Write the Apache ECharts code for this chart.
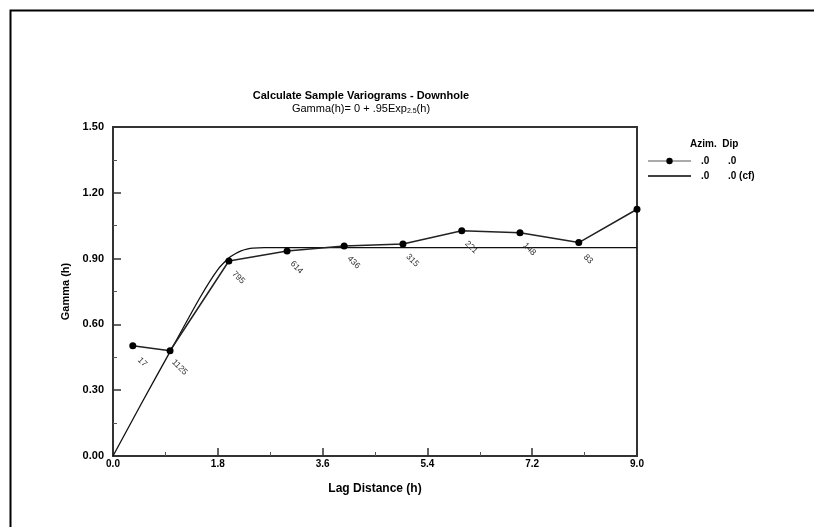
<!DOCTYPE html>
<html>
<head>
<meta charset="utf-8">
<script src="https://cdn.jsdelivr.net/npm/echarts@6/dist/echarts.min.js"></script>
<style>
html,body{margin:0;padding:0;background:#fff;}
#c{width:814px;height:527px;}
</style>
</head>
<body>
<div id="c"></div>
<script>
// Sample variogram (lag distance, gamma, number of pairs)
const lagX = [0.34, 0.98, 1.99, 2.99, 3.97, 4.98, 5.99, 6.99, 8.0, 9.0];
const gammaY = [0.503, 0.48, 0.889, 0.935, 0.958, 0.967, 1.027, 1.018, 0.973, 1.125];
const pairCounts = ['17', '1125', '795', '614', '436', '315', '221', '148', '83', ''];
// Fitted model curve
const modelX = [0, 0.5, 1.0, 1.5, 1.8, 2.0, 2.1, 2.2, 2.3, 2.4, 2.6, 9.0];
const modelY = [0, 0.245, 0.485, 0.725, 0.85, 0.905, 0.922, 0.935, 0.943, 0.948, 0.95, 0.95];
const yTicks = { min: 0, max: 1.5, interval: 0.3 };
const xTicks = { min: 0, max: 9, interval: 1.8 };
const seriesNames = ['.0 .0', '.0 .0 (cf)'];

const FONT = '"Liberation Sans", Arial, sans-serif';
const chart = echarts.init(document.getElementById('c'), null, { renderer: 'canvas' });

const sampleData = lagX.map((x, i) => ({ value: [x, gammaY[i]], pairs: pairCounts[i] }));
const modelData = modelX.map((x, i) => [x, modelY[i]]);

chart.setOption({
  animation: false,
  backgroundColor: '#fff',
  textStyle: { fontFamily: FONT },
  title: {
    text: 'Calculate Sample Variograms - Downhole',
    subtext: '{n|Gamma(h)= 0 + .95Exp}{s|2.5}{n|(h)}',
    left: 361, textAlign: 'center', top: 90, itemGap: 2, padding: 0,
    textStyle: { fontFamily: FONT, fontSize: 11, fontWeight: 'bold', color: '#000' },
    subtextStyle: {
      fontFamily: FONT, color: '#000',
      rich: {
        n: { fontFamily: FONT, fontSize: 11, color: '#000' },
        s: { fontFamily: FONT, fontSize: 7, color: '#000', padding: [5, 0, 0, 0] }
      }
    }
  },
  legend: {
    orient: 'vertical', left: 647, top: 156, itemGap: 5, padding: 0,
    itemWidth: 43, itemHeight: 8,
    data: [
      { name: seriesNames[0], itemStyle: { color: '#000' }, lineStyle: { color: '#aaa', width: 2 } },
      { name: seriesNames[1], itemStyle: { color: '#000', opacity: 0 }, lineStyle: { color: '#000', width: 1.5, opacity: 1 } }
    ],
    formatter: function (name) {
      return name === seriesNames[0] ? '{a|.0}{b|.0}' : '{a|.0}{b|.0 (cf)}';
    },
    textStyle: {
      fontFamily: FONT, fontSize: 10, fontWeight: 'bold', color: '#000',
      rich: {
        a: { fontFamily: FONT, fontSize: 10, fontWeight: 'bold', width: 27, padding: [0, 0, 0, 5] },
        b: { fontFamily: FONT, fontSize: 10, fontWeight: 'bold' }
      }
    }
  },
  graphic: [
    { type: 'rect', left: 8, top: 8, shape: { width: 830, height: 540 },
      style: { fill: 'none', stroke: '#000', lineWidth: 2 }, silent: true },
    { type: 'text', left: 690, top: 139,
      style: { text: 'Azim.  Dip', font: 'bold 10px ' + FONT, fill: '#000' } }
  ],
  grid: { left: 113, top: 127, right: 177, bottom: 71, show: true, borderColor: '#333', borderWidth: 2 },
  xAxis: {
    type: 'value', min: xTicks.min, max: xTicks.max, interval: xTicks.interval,
    name: 'Lag Distance (h)', nameLocation: 'middle', nameGap: 27,
    nameTextStyle: { fontFamily: FONT, fontSize: 12, fontWeight: 'bold', color: '#000' },
    axisLine: { lineStyle: { color: '#333', width: 2 } },
    axisTick: { inside: true, length: 8, lineStyle: { color: '#333', width: 1.5 } },
    minorTick: { show: true, splitNumber: 2, length: 4, lineStyle: { color: '#555' } },
    splitLine: { show: false },
    axisLabel: { margin: 3, fontFamily: FONT, fontSize: 10, fontWeight: 'bold', color: '#000',
      formatter: v => v.toFixed(1) }
  },
  yAxis: {
    type: 'value', min: yTicks.min, max: yTicks.max, interval: yTicks.interval,
    name: 'Gamma (h)', nameLocation: 'middle', nameGap: 39,
    nameTextStyle: { fontFamily: FONT, fontSize: 11, fontWeight: 'bold', color: '#000' },
    axisLine: { show: true, lineStyle: { color: '#333', width: 2 } },
    axisTick: { show: true, inside: true, length: 8, lineStyle: { color: '#333', width: 1.5 } },
    minorTick: { show: true, splitNumber: 2, length: 4, lineStyle: { color: '#555' } },
    splitLine: { show: false },
    axisLabel: { margin: 9, fontFamily: FONT, fontSize: 11, fontWeight: 'bold', color: '#000',
      formatter: v => v.toFixed(2) }
  },
  series: [
    {
      name: seriesNames[0], type: 'line', data: sampleData,
      symbol: 'circle', symbolSize: 7, showAllSymbol: true,
      itemStyle: { color: '#000' },
      lineStyle: { color: '#222', width: 1.5 },
      label: {
        show: true, position: [13, 20], rotate: -45, align: 'center', verticalAlign: 'middle',
        fontFamily: FONT, fontSize: 8.5, color: '#333',
        formatter: p => p.data.pairs
      },
      z: 3
    },
    {
      name: seriesNames[1], type: 'line', data: modelData,
      symbol: 'none', smooth: 0.25,
      itemStyle: { color: '#111' },
      lineStyle: { color: '#111', width: 1.3 },
      z: 2
    }
  ]
});
</script>
</body>
</html>
